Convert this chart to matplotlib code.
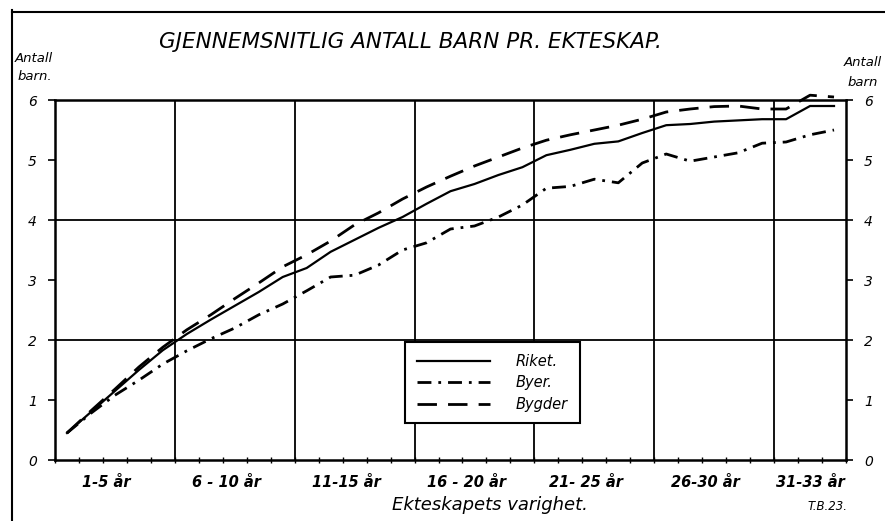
import matplotlib
matplotlib.use("Agg")
import matplotlib.pyplot as plt
from matplotlib.lines import Line2D
import numpy as np

# Data: years of marriage duration 1..33
years = list(range(1, 34))
riket = [0.45, 0.80, 1.15, 1.50, 1.83, 2.10, 2.34, 2.57, 2.80, 3.05,
         3.20, 3.47, 3.67, 3.87, 4.05, 4.27, 4.48, 4.60, 4.75, 4.88,
         5.08, 5.17, 5.27, 5.31, 5.45, 5.58, 5.60, 5.64, 5.66, 5.68,
         5.68, 5.90, 5.90]
byer = [0.45, 0.78, 1.08, 1.33, 1.60, 1.82, 2.02, 2.20, 2.42, 2.60,
        2.82, 3.05, 3.08, 3.25, 3.50, 3.62, 3.85, 3.90, 4.05, 4.25,
        4.53, 4.56, 4.68, 4.62, 4.95, 5.10, 4.98, 5.05, 5.12, 5.28,
        5.30, 5.42, 5.50]
bygder = [0.45, 0.82, 1.18, 1.55, 1.88, 2.17, 2.42, 2.69, 2.95, 3.22,
          3.42, 3.65, 3.92, 4.12, 4.35, 4.55, 4.73, 4.90, 5.05, 5.20,
          5.33, 5.42, 5.50, 5.58, 5.68, 5.80, 5.85, 5.89, 5.90, 5.85,
          5.85, 6.08, 6.05]
series_names = ["Riket.", "Byer.", "Bygder"]
group_labels = ["1-5 år", "6 - 10 år", "11-15 år", "16 - 20 år", "21- 25 år", "26-30 år", "31-33 år"]
group_bounds = [0.5, 5.5, 10.5, 15.5, 20.5, 25.5, 30.5, 33.5]
yticks = [0, 1, 2, 3, 4, 5, 6]

FONT = "DejaVu Sans"
plt.rcParams['font.family'] = [FONT]

fig = plt.figure(figsize=(8.85, 5.21), dpi=100)
ax = fig.add_axes([55/885, 61/521, 791/885, 360/521])
ax.set_xlim(group_bounds[0], group_bounds[-1])
ax.set_ylim(0, 6)

# grid
for gx in group_bounds[1:-1]:
    ax.axvline(gx, color="black", lw=1.3, zorder=1)
for gy in [2, 4]:
    ax.axhline(gy, color="black", lw=1.3, zorder=1)

ax.plot(years, riket, color="black", lw=1.6, ls="-", label=series_names[0], zorder=3, clip_on=False)
ax.plot(years, byer, color="black", lw=2.0, ls=(0, (5, 2.5, 1, 2.5)), label=series_names[1], zorder=3, clip_on=False)
ax.plot(years, bygder, color="black", lw=2.0, ls=(0, (7, 4)), label=series_names[2], zorder=3, clip_on=False)

for s in ax.spines.values():
    s.set_color("black")
    s.set_linewidth(1.8)

ax.set_yticks(yticks)
ax.set_yticklabels([str(v) for v in yticks], fontstyle="italic", fontsize=10)
ax.tick_params(axis="y", which="both", direction="out", length=5, width=1.2,
               left=True, right=True, labelleft=True, labelright=True, pad=8)
ax.set_xticks(group_bounds)
ax.set_xticklabels([])
ax.set_xticks(np.arange(1.5, 33.5, 1.0), minor=True)
ax.tick_params(axis="x", which="both", direction="inout", length=5, width=1.0, top=False)

# group labels
for i, lab in enumerate(group_labels):
    c = (group_bounds[i] + group_bounds[i+1]) / 2
    off = -0.35 if i < len(group_labels) - 1 else 0.0
    ax.text(c + off, -0.38, lab, ha="center", va="center", fontsize=10.5,
            fontstyle="italic", fontweight="bold", transform=ax.transData, clip_on=False)

ax.text(0.55, -0.125, "Ekteskapets varighet.", transform=ax.transAxes, ha="center",
        va="center", fontsize=13, fontstyle="italic")
fig.text(827/885, 1 - 507/521, "T.B.23.", ha="center", va="center", fontsize=8.5, fontstyle="italic")

# title and axis labels
fig.text(410/885, 1 - 42/521, "GJENNEMSNITLIG ANTALL BARN PR. EKTESKAP.", ha="center", va="center",
         fontsize=15.5, fontstyle="italic", fontweight="light")
fig.text(15/885, 1 - 58/521, "Antall", ha="left", va="center", fontsize=9.5, fontstyle="italic")
fig.text(18/885, 1 - 77/521, "barn.", ha="left", va="center", fontsize=9.5, fontstyle="italic")
fig.text(863/885, 1 - 63/521, "Antall", ha="center", va="center", fontsize=9.5, fontstyle="italic")
fig.text(863/885, 1 - 83/521, "barn", ha="center", va="center", fontsize=9.5, fontstyle="italic")

leg = ax.legend(loc="upper left", bbox_to_anchor=((405-55)/791, (460-342)/360),
                borderaxespad=0.0,
                frameon=True, fancybox=False, edgecolor="black", framealpha=1,
                handlelength=5.0, handletextpad=1.8, borderpad=0.8, labelspacing=0.45,
                prop={"style": "italic", "size": 10.5})
leg.get_frame().set_linewidth(1.5)

# outer frame lines
fig.add_artist(Line2D([12/885, 12/885], [0, 1 - 10/521], color="black", lw=1.5, transform=fig.transFigure))
fig.add_artist(Line2D([12/885, 1], [1 - 12/521, 1 - 12/521], color="black", lw=1.5, transform=fig.transFigure))

fig.savefig("out.png", dpi=100)
